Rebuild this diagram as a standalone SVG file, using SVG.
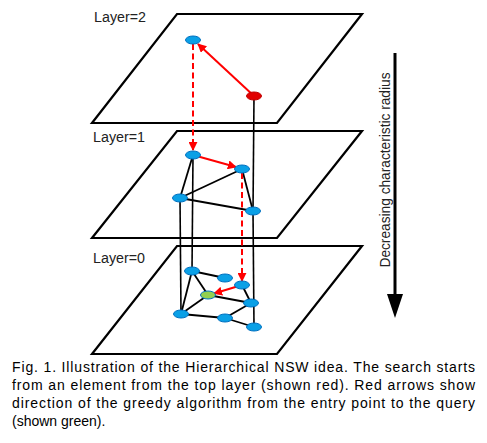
<svg xmlns="http://www.w3.org/2000/svg" width="487" height="443" viewBox="0 0 487 443">
<style>
.plane{fill:none;stroke:#000;stroke-width:2.2;stroke-linejoin:miter}
.edge{stroke:#000;stroke-width:1.8;fill:none}
.vert{stroke:#000;stroke-width:1.6;fill:none}
.red{stroke:#f00;stroke-width:2;fill:none}
.dash{stroke:#f00;stroke-width:2;fill:none;stroke-dasharray:6,3.5}
.nb{fill:#0aa0e6;stroke:#0070c0;stroke-width:1}
.lbl{font-family:"Liberation Sans",Arial,sans-serif;font-size:14px;fill:#222}
.cap{font-family:"Liberation Sans",Arial,sans-serif;font-size:14px;fill:#000}
</style>
<defs>
<marker id="ra" viewBox="0 0 10 10" refX="9" refY="5" markerWidth="4.5" markerHeight="4.5" orient="auto" markerUnits="strokeWidth">
<path d="M0,0 L10,5 L0,10 z" fill="#f00"/>
</marker>
</defs>
<g id="planes">
<polygon class="plane" points="177,14 362,14 277,123 92,123"/>
<polygon class="plane" points="177,131 362,131 277,238 92,238"/>
<polygon class="plane" points="177,246 362,246 277,354 92,354"/>
</g>
<g id="labels">
<text class="lbl" x="94" y="22" textLength="52" lengthAdjust="spacingAndGlyphs">Layer=2</text>
<text class="lbl" x="93" y="142" textLength="52" lengthAdjust="spacingAndGlyphs">Layer=1</text>
<text class="lbl" x="93" y="263" textLength="52" lengthAdjust="spacingAndGlyphs">Layer=0</text>
</g>
<g id="connectors">
<line class="vert" x1="254" y1="96" x2="253" y2="211"/>
<line class="vert" x1="253" y1="211" x2="254" y2="327"/>
<line class="vert" x1="193" y1="155" x2="192" y2="271"/>
<line class="vert" x1="180" y1="198" x2="181" y2="314"/>
<line class="edge" x1="193" y1="155" x2="180" y2="198"/>
<line class="edge" x1="242" y1="169" x2="180" y2="198"/>
<line class="edge" x1="180" y1="198" x2="253" y2="211"/>
<line class="edge" x1="242" y1="169" x2="253" y2="211"/>
<line class="edge" x1="192" y1="271" x2="225" y2="278"/>
<line class="edge" x1="192" y1="271" x2="208" y2="295"/>
<line class="edge" x1="192" y1="271" x2="181" y2="314"/>
<line class="edge" x1="208" y1="295" x2="181" y2="314"/>
<line class="edge" x1="208" y1="295" x2="251" y2="303"/>
<line class="edge" x1="242" y1="285" x2="251" y2="303"/>
<line class="edge" x1="251" y1="303" x2="225" y2="318"/>
<line class="edge" x1="181" y1="314" x2="225" y2="318"/>
<line class="edge" x1="225" y1="318" x2="254" y2="327"/>
<line class="red" x1="254" y1="96" x2="198" y2="44" marker-end="url(#ra)"/>
<line class="dash" x1="193" y1="44" x2="193" y2="150" marker-end="url(#ra)"/>
<line class="red" x1="193" y1="155" x2="236" y2="167" marker-end="url(#ra)"/>
<line class="dash" x1="242" y1="173" x2="242" y2="281" marker-end="url(#ra)"/>
<line class="red" x1="242" y1="285" x2="214" y2="293.5" marker-end="url(#ra)"/>
</g>
<g id="node-l2-a"><ellipse class="nb" cx="193" cy="40" rx="7.5" ry="4"/></g>
<g id="node-l2-entry"><ellipse cx="254" cy="96" rx="7.5" ry="4" fill="#e00000" stroke="#c00000" stroke-width="1"/></g>
<g id="node-l1-a"><ellipse class="nb" cx="193" cy="155" rx="7.5" ry="4"/></g>
<g id="node-l1-b"><ellipse class="nb" cx="242" cy="169" rx="7.5" ry="4"/></g>
<g id="node-l1-c"><ellipse class="nb" cx="180" cy="198" rx="7.5" ry="4"/></g>
<g id="node-l1-d"><ellipse class="nb" cx="253" cy="211" rx="7.5" ry="4"/></g>
<g id="node-l0-1"><ellipse class="nb" cx="192" cy="271" rx="7.5" ry="4"/></g>
<g id="node-l0-2"><ellipse class="nb" cx="225" cy="278" rx="7.5" ry="4"/></g>
<g id="node-l0-3"><ellipse class="nb" cx="242" cy="285" rx="7.5" ry="4"/></g>
<g id="node-l0-query"><ellipse cx="208" cy="295" rx="7.5" ry="4" fill="#92d050" stroke="#0070c0" stroke-width="1"/></g>
<g id="node-l0-4"><ellipse class="nb" cx="251" cy="303" rx="7.5" ry="4"/></g>
<g id="node-l0-5"><ellipse class="nb" cx="181" cy="314" rx="7.5" ry="4"/></g>
<g id="node-l0-6"><ellipse class="nb" cx="225" cy="318" rx="7.5" ry="4"/></g>
<g id="node-l0-7"><ellipse class="nb" cx="254" cy="327" rx="7.5" ry="4"/></g>
<g id="radius-arrow">
<line x1="395" y1="53" x2="395" y2="296" stroke="#000" stroke-width="3"/>
<polygon points="387,294 403,294 395,318" fill="#000"/>
<text class="lbl" style="font-size:15px" transform="translate(389.5,170) rotate(-90)" text-anchor="middle" textLength="195" lengthAdjust="spacingAndGlyphs">Decreasing characteristic radius</text>
</g>
<g id="caption">
<text class="cap" x="12" y="372" textLength="463" lengthAdjust="spacing">Fig. 1. Illustration of the Hierarchical NSW idea. The search starts</text>
<text class="cap" x="12" y="390" textLength="463" lengthAdjust="spacing">from an element from the top layer (shown red). Red arrows show</text>
<text class="cap" x="12" y="408" textLength="463" lengthAdjust="spacing">direction of the greedy algorithm from the entry point to the query</text>
<text class="cap" x="12" y="426">(shown green).</text>
</g>
</svg>
